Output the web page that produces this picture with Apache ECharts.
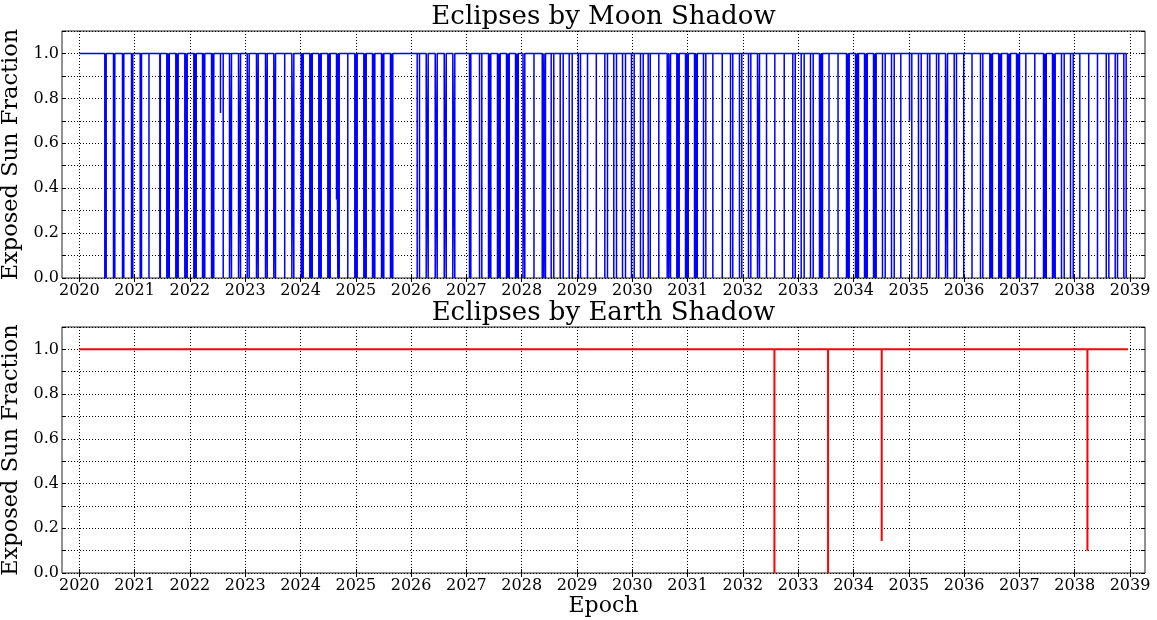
<!DOCTYPE html>
<html>
<head>
<meta charset="utf-8">
<title>Eclipses</title>
<script src="https://cdn.jsdelivr.net/npm/echarts@6/dist/echarts.min.js"></script>
<style>
  html, body { margin: 0; padding: 0; background: #ffffff; }
  #chart { width: 1157px; height: 620px; }
</style>
</head>
<body>
<div id="chart"></div>
<script>
// Tick years on the epoch axis
const epochYears = [2020, 2021, 2022, 2023, 2024, 2025, 2026, 2027, 2028, 2029,
                    2030, 2031, 2032, 2033, 2034, 2035, 2036, 2037, 2038, 2039];

// Moon shadow: simulated time span and eclipse epochs (decimal years)
const moonSpan = [2020.0, 2038.94];
const moonFullYears = [
  2020.461, 2020.486, 2020.618, 2020.642, 2020.781, 2020.805, 2020.944, 2020.967,
  2021.101, 2021.125, 2021.260, 2021.456, 2021.465,
  2021.582, 2021.604, 2021.626, 2021.745, 2021.767, 2021.788, 2021.908, 2021.930, 2021.951,
  2022.071, 2022.092, 2022.114, 2022.228, 2022.248, 2022.269, 2022.391, 2022.411, 2022.432,
  2022.602, 2022.716, 2022.752, 2022.879, 2022.915,
  2023.036, 2023.072, 2023.204, 2023.235, 2023.367, 2023.398, 2023.517, 2023.548,
  2023.714, 2023.843, 2023.879,
  2024.013, 2024.031, 2024.049, 2024.168, 2024.190, 2024.212, 2024.331, 2024.353, 2024.374,
  2024.494, 2024.515, 2024.537, 2024.675, 2024.700, 2024.855,
  2024.982, 2025.004, 2025.025, 2025.145, 2025.166, 2025.188, 2025.302, 2025.322, 2025.344,
  2025.465, 2025.485, 2025.506, 2025.627, 2025.647, 2025.669,
  2026.110, 2026.152, 2026.273, 2026.309, 2026.436, 2026.472, 2026.599, 2026.635,
  2026.754, 2026.790,
  2027.056, 2027.080, 2027.237, 2027.278, 2027.400, 2027.420, 2027.441,
  2027.562, 2027.586, 2027.611, 2027.725, 2027.749, 2027.774, 2027.888, 2027.911, 2027.937,
  2028.023, 2028.056, 2028.222, 2028.371, 2028.400, 2028.430, 2028.533, 2028.580,
  2028.696, 2028.750, 2028.859, 2028.913,
  2029.022, 2029.063, 2029.190, 2029.349, 2029.503, 2029.551, 2029.665, 2029.714,
  2029.823, 2029.877, 2029.985,
  2030.034, 2030.148, 2030.197, 2030.287, 2030.324, 2030.479, 2030.631, 2030.660, 2030.691,
  2030.805, 2030.826, 2030.848, 2030.962, 2030.985,
  2031.011, 2031.125, 2031.148, 2031.174, 2031.287, 2031.329, 2031.456, 2031.626,
  2031.776, 2031.817, 2031.938, 2031.980,
  2032.101, 2032.143, 2032.264, 2032.300, 2032.427, 2032.577, 2032.747, 2032.902, 2032.946,
  2033.054, 2033.108, 2033.222, 2033.271, 2033.385, 2033.412, 2033.439, 2033.557, 2033.720,
  2033.873, 2033.897, 2033.922,
  2034.036, 2034.063, 2034.090, 2034.199, 2034.222, 2034.248, 2034.362, 2034.385, 2034.410,
  2034.524, 2034.573, 2034.687, 2034.736, 2034.855,
  2035.054, 2035.175, 2035.224, 2035.338, 2035.380, 2035.501, 2035.542, 2035.664, 2035.700,
  2035.821, 2035.862, 2035.993,
  2036.143, 2036.296, 2036.338, 2036.465, 2036.490, 2036.513, 2036.627, 2036.653, 2036.676,
  2036.785, 2036.812, 2036.839, 2036.948, 2036.975,
  2037.002, 2037.116, 2037.278, 2037.436, 2037.459, 2037.485, 2037.598, 2037.622, 2037.647,
  2037.761, 2037.810, 2037.924, 2037.973,
  2038.092, 2038.253, 2038.412, 2038.570, 2038.617, 2038.732, 2038.774, 2038.888, 2038.931
];
// Partial moon-shadow eclipses and their minimum exposed fraction
const moonPartialYears = [2022.553, 2024.651, 2035.013];
const moonPartialMin = [0.735, 0.35, 0.70];

// Earth shadow: simulated time span, eclipse epochs and minimum exposed fraction
const earthSpan = [2020.0, 2038.96];
const earthYears = [2032.57, 2033.54, 2034.51, 2038.23];
const earthMin = [0.0, 0.0, 0.143, 0.10];

// Turn eclipse epochs into a sun-fraction trace: 1 outside, dropping to the minimum at each event
function buildTrace(span, events) {
  const sorted = events.slice().sort((a, b) => a[0] - b[0]);
  const pts = [[span[0], 1]];
  sorted.forEach(([t, m]) => { pts.push([t, 1], [t, m], [t, 1]); });
  pts.push([span[1], 1]);
  return pts;
}

const moonEvents = moonFullYears.map(t => [t, 0])
  .concat(moonPartialYears.map((t, i) => [t, moonPartialMin[i]]));
const earthEvents = earthYears.map((t, i) => [t, earthMin[i]]);

const moonTrace = buildTrace(moonSpan, moonEvents);
const earthTrace = buildTrace(earthSpan, earthEvents);

const FONT = 'DejaVu Serif';
const X_MIN = 2019.687, X_MAX = 2039.271;
const gridLine = { type: [1, 2], color: '#000', width: 1 };

function xAxisOf(gridIndex, position, main, name) {
  return {
    type: 'value', gridIndex, position, min: X_MIN, max: X_MAX,
    axisLine: { show: false },
    axisTick: { show: true, inside: true, length: 4, customValues: epochYears,
                lineStyle: { color: '#000', width: 1 } },
    axisLabel: { show: main, customValues: epochYears, margin: 5,
                 formatter: v => String(Math.round(v)),
                 fontFamily: FONT, fontSize: 16, color: '#000' },
    splitLine: { show: main, lineStyle: gridLine },
    name: name || '', nameLocation: 'middle', nameGap: 22,
    nameTextStyle: { fontFamily: FONT, fontSize: 22, color: '#000' }
  };
}

function yAxisOf(gridIndex, position, main) {
  return {
    type: 'value', gridIndex, position, min: 0, max: 1.1, interval: 0.1,
    axisLine: { show: false },
    axisTick: { show: true, inside: true, length: 4, lineStyle: { color: '#000', width: 1 } },
    axisLabel: { show: main, margin: 3,
                 formatter: v => (Math.round(v * 10) % 2 === 0 ? v.toFixed(1) : ''),
                 fontFamily: FONT, fontSize: 16, color: '#000' },
    splitLine: { show: main, lineStyle: gridLine },
    name: main ? 'Exposed Sun Fraction' : '', nameLocation: 'middle', nameGap: 34,
    nameTextStyle: { fontFamily: FONT, fontSize: 22.5, color: '#000' }
  };
}

const chart = echarts.init(document.getElementById('chart'), null, { renderer: 'canvas' });
chart.setOption({
  animation: false,
  backgroundColor: '#ffffff',
  title: [
    { text: 'Eclipses by Moon Shadow', left: 603.5, textAlign: 'center', top: 4, padding: 0,
      textStyle: { fontFamily: FONT, fontSize: 26, fontWeight: 'normal', color: '#000' } },
    { text: 'Eclipses by Earth Shadow', left: 603.5, textAlign: 'center', top: 300, padding: 0,
      textStyle: { fontFamily: FONT, fontSize: 26, fontWeight: 'normal', color: '#000' } }
  ],
  grid: [
    { left: 62, right: 12, top: 31, height: 247, show: true, borderColor: '#222',
      borderWidth: 1, backgroundColor: 'transparent', outerBoundsMode: 'none', containLabel: false },
    { left: 62, right: 12, top: 327, height: 246, show: true, borderColor: '#222',
      borderWidth: 1, backgroundColor: 'transparent', outerBoundsMode: 'none', containLabel: false }
  ],
  xAxis: [
    xAxisOf(0, 'bottom', true),
    xAxisOf(0, 'top', false),
    xAxisOf(1, 'bottom', true, 'Epoch'),
    xAxisOf(1, 'top', false)
  ],
  yAxis: [
    yAxisOf(0, 'left', true),
    yAxisOf(0, 'right', false),
    yAxisOf(1, 'left', true),
    yAxisOf(1, 'right', false)
  ],
  series: [
    { name: 'Moon shadow', type: 'line', xAxisIndex: 0, yAxisIndex: 0, data: moonTrace,
      showSymbol: false, symbol: 'none', lineStyle: { color: '#0000ff', width: 1.5 },
      clip: true, z: 3 },
    { name: 'Earth shadow', type: 'line', xAxisIndex: 2, yAxisIndex: 2, data: earthTrace,
      showSymbol: false, symbol: 'none', lineStyle: { color: '#ff0000', width: 2 },
      clip: true, z: 3 }
  ]
});
</script>
</body>
</html>
